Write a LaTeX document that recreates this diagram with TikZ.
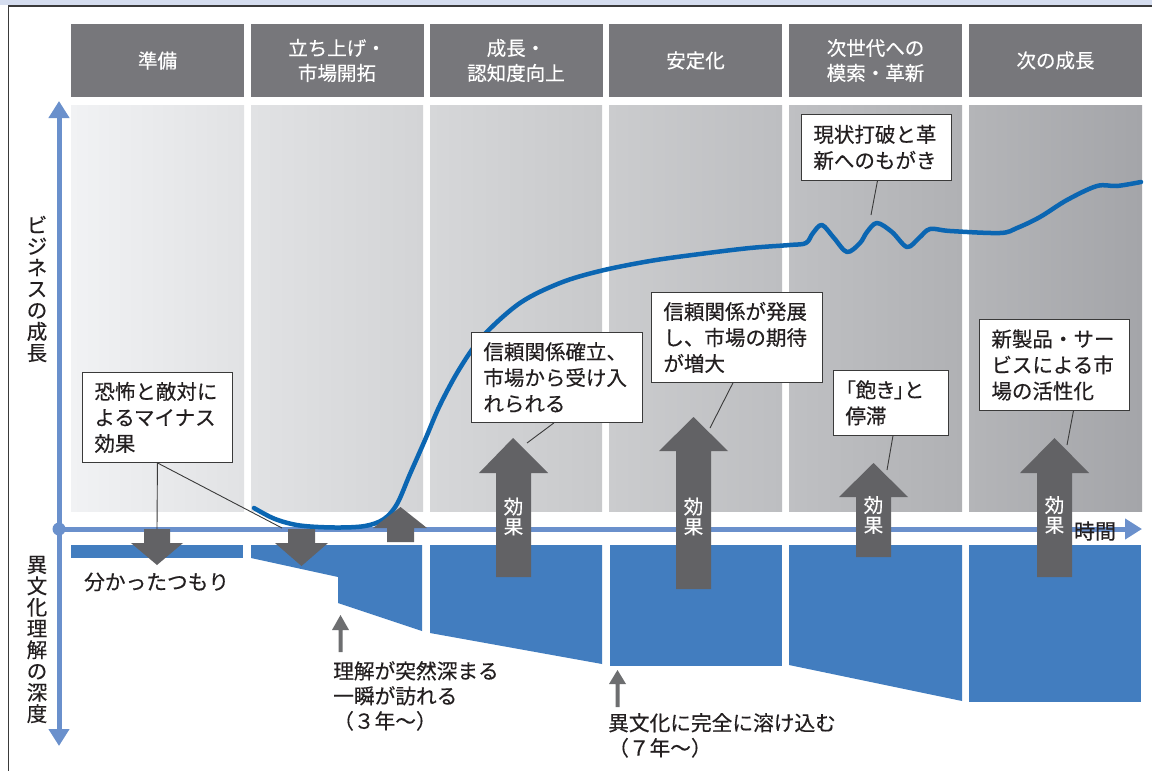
\documentclass[tikz,border=0pt]{standalone}
\usepackage{fontspec}
\setmainfont[FakeBold=0.35]{Noto Sans CJK JP}
\newfontfamily\jpp[RawFeature=+palt,FakeBold=0.35]{Noto Sans CJK JP}
\usetikzlibrary{arrows.meta,calc}
\definecolor{hdrgray}{HTML}{77777B}
\definecolor{bandblue}{HTML}{D5DDEF}
\definecolor{framecol}{HTML}{3A3A3A}
\definecolor{axisblue}{HTML}{6A90CC}
\definecolor{blockblue}{HTML}{427DBF}
\definecolor{curveblue}{HTML}{0B66B2}
\definecolor{arrgray}{HTML}{626265}
\definecolor{smallarr}{HTML}{6D6E70}
\definecolor{txt}{HTML}{231F20}
\definecolor{gA1}{HTML}{F1F2F4}\definecolor{gA2}{HTML}{E1E2E4}
\definecolor{gB1}{HTML}{E1E2E4}\definecolor{gB2}{HTML}{D3D4D6}
\definecolor{gC1}{HTML}{D6D7D9}\definecolor{gC2}{HTML}{C8C9CB}
\definecolor{gD1}{HTML}{CBCCCE}\definecolor{gD2}{HTML}{BDBEC1}
\definecolor{gE1}{HTML}{BFC0C3}\definecolor{gE2}{HTML}{B0B1B4}
\definecolor{gF1}{HTML}{B4B5B8}\definecolor{gF2}{HTML}{A4A5A9}
\tikzset{
  hdrbox/.style={fill=hdrgray, text=white, minimum width=173pt, minimum height=73pt,
    align=center, inner sep=0pt, font=\fontsize{19.5}{25}\selectfont},
  lbl/.style={draw=framecol, fill=white, line width=0.9pt, anchor=north west, align=left,
    inner xsep=12pt, inner ysep=0pt, text=txt, font=\fontsize{20.5}{26}\selectfont},
  leader/.style={draw=framecol, line width=0.9pt},
  axisline/.style={draw=axisblue, line width=5pt},
  bigarrow/.style={fill=arrgray},
  efftext/.style={text=white, align=center, inner sep=0pt, font=\fontsize{19.5}{20}\selectfont},
  plaintext/.style={text=txt, align=left, inner sep=0pt, font=\fontsize{20.7}{25}\selectfont},
  vtext/.style={text=txt, align=center, inner sep=0pt, font=\fontsize{20.5}{21.3}\selectfont},
  block/.style={fill=blockblue},
  curve/.style={draw=curveblue, line width=4.5pt, line cap=round, line join=round}
}
\begin{document}
\begin{tikzpicture}[x=1pt,y=-1pt]
\useasboundingbox (0,0) rectangle (1152,771);
\fill[white] (0,0) rectangle (1152,771);
% frame
\fill[bandblue] (0,0) rectangle (1152,5);
\draw[framecol, line width=1.6pt] (8,5.8) -- (1152,5.8);
\draw[framecol, line width=1.3pt] (8.3,5) -- (8.3,771);

% headers
\node[hdrbox] (h1) at (157.5,60.5) {準備};
\node[hdrbox] (h2) at (337,60.5) {立ち上げ・\\市場開拓};
\node[hdrbox] (h3) at (516,60.5) {成長・\\認知度向上};
\node[hdrbox] (h4) at (695.5,60.5) {安定化};
\node[hdrbox] (h5) at (875.5,60.5) {次世代への\\模索・革新};
\node[hdrbox] (h6) at (1055.5,60.5) {次の成長};

% gray panels
\shade[left color=gA1, right color=gA2] (71,105) rectangle (244,511);
\shade[left color=gB1, right color=gB2] (251,105) rectangle (423,511);
\shade[left color=gC1, right color=gC2] (430,105) rectangle (602,511);
\shade[left color=gD1, right color=gD2] (609,105) rectangle (782,511);
\shade[left color=gE1, right color=gE2] (789,105) rectangle (962,511);
\shade[left color=gF1, right color=gF2] (969,105) rectangle (1142,511);

% blue blocks
\fill[block] (71,545) rectangle (243,557.5);
\fill[block] (251,545) -- (422,545) -- (422,631) -- (338,603) -- (338,577) -- (251,558) -- cycle;
\fill[block] (430,545) -- (602,545) -- (602,664) -- (430,633) -- cycle;
\fill[block] (610,545) rectangle (782,666);
\fill[block] (789,545) -- (962,545) -- (962,701) -- (789,665) -- cycle;
\fill[block] (969,545) rectangle (1141,702);

% axes
\coordinate (O) at (59,529);
\coordinate (ytop) at (59,101);
\coordinate (ybot) at (59,746);
\coordinate (xend) at (1142,529);
\draw[axisline, -{Triangle[length=17pt,width=20pt]}] (O) -- (ytop);
\draw[axisline, -{Triangle[length=17pt,width=20pt]}] (O) -- (ybot);
\draw[axisline, -{Triangle[length=17pt,width=20pt]}] (O) -- (xend);
\fill[axisblue] (O) circle (6.5pt);

\node[vtext] (ylab1) at (37,289) {ビ\\ジ\\ネ\\ス\\の\\成\\長};
\node[vtext] (ylab2) at (37,639.5) {異\\文\\化\\理\\解\\の\\深\\度};
\node[text=txt, inner sep=0pt, font=\fontsize{21}{22}\selectfont] (xlab) at (1095,531) {時間};

% curve
\draw[curve] plot[smooth, tension=0.55] coordinates {
 (254,508) (275,519) (300,525.5) (335,527.5) (365,526) (384,519) (397,504) (410,474)
 (425,440) (440,405) (460,368) (483,336) (520,303) (560,283) (600,271) (650,261)
 (700,254) (750,248) (790,245) (806,243) (813,233) (822,225) (834,238) (847,252)
 (860,243) (867,232) (877,223) (892,232) (907,247) (919,238) (930,229) (950,231)
 (1000,233) (1017,228) (1040,217) (1067,200) (1097,186) (1117,186) (1141,182)};

% big arrows
\fill[bigarrow] (496,577) -- (496,473) -- (479,473) -- (513,438) -- (548,473) -- (531,473) -- (531,577) -- cycle;
\fill[bigarrow] (676,589) -- (676,451) -- (659,451) -- (693.5,417) -- (728,451) -- (711,451) -- (711,589) -- cycle;
\fill[bigarrow] (856,557) -- (856,497) -- (839,497) -- (873.5,463) -- (908,497) -- (891,497) -- (891,557) -- cycle;
\fill[bigarrow] (1037,577) -- (1037,473) -- (1020,473) -- (1054.5,438) -- (1089,473) -- (1072,473) -- (1072,577) -- cycle;
\node[efftext] (e1) at (513.5,516.5) {効\\果};
\node[efftext] (e2) at (693.5,516.5) {効\\果};
\node[efftext] (e3) at (873.5,515) {効\\果};
\node[efftext] (e4) at (1054.5,515) {効\\果};
\coordinate (a1tip) at (527,443);
\coordinate (a2tip) at (710,428);
\coordinate (a3tip) at (887,470);
\coordinate (a4tip) at (1067,445);

% small arrows near axis
\fill[bigarrow] (144,529) -- (170,529) -- (170,543) -- (183,543) -- (157,565) -- (131,543) -- (144,543) -- cycle;
\fill[bigarrow] (288,529) -- (315,529) -- (315,543) -- (328,543) -- (301.5,566) -- (275,543) -- (288,543) -- cycle;
\fill[bigarrow] (387,542) -- (414,542) -- (414,528) -- (427,528) -- (400.5,507) -- (373,528) -- (387,528) -- cycle;
\coordinate (d1top) at (157,529);
\coordinate (d2top) at (282,528);

% thin up arrows below
\fill[smallarr] (338.5,652) -- (342.5,652) -- (342.5,630) -- (349,630) -- (340.5,615) -- (332,630) -- (338.5,630) -- cycle;
\fill[smallarr] (615.5,707) -- (619.5,707) -- (619.5,684) -- (626,684) -- (617.5,670) -- (609,684) -- (615.5,684) -- cycle;

% label boxes
\node[lbl, text width=126pt, minimum height=90pt] (b1) at (82,372) {恐怖と敵対に\\よるマイナス\\効果};
\node[lbl, text width=147pt, minimum height=90pt] (b2) at (471,332) {信頼関係確立、\\市場から受け入\\れられる};
\node[lbl, text width=147pt, minimum height=90pt] (b3) at (651,292) {信頼関係が発展\\し、市場の期待\\が増大};
\node[lbl, text width=91pt, minimum height=65pt, inner xsep=12pt] (b4) at (833,370) {{\jpp 「飽き」と}\\停滞};
\node[lbl, text width=126pt, minimum height=91pt] (b5) at (979,319) {新製品・サー\\ビスによる市\\場の活性化};
\node[lbl, text width=126pt, minimum height=66pt] (b6) at (801,114) {現状打破と革\\新へのもがき};
\coordinate (w1) at (871,215);

% leaders
\draw[leader] (b1.south) -- (d1top);
\draw[leader] (b1.south) -- (d2top);
\draw[leader] ([xshift=-3pt]b2.south) -- (a1tip);
\draw[leader] ([xshift=-4pt]b3.south) -- (a2tip);
\draw[leader] ([xshift=2pt]b4.south) -- (a3tip);
\draw[leader] ([xshift=19pt]b5.south) -- (a4tip);
\draw[leader] ([xshift=1pt]b6.south) -- (w1);

% bottom texts
\node[plaintext, anchor=west] (t1) at (84,582) {分かったつもり};
\node[plaintext, anchor=north west] (t2) at (333,661) {理解が突然深まる\\一瞬が訪れる\\（３年～）};
\node[plaintext, anchor=north west] (t3) at (608,713) {異文化に完全に溶け込む\\（７年～）};
\end{tikzpicture}
\end{document}
